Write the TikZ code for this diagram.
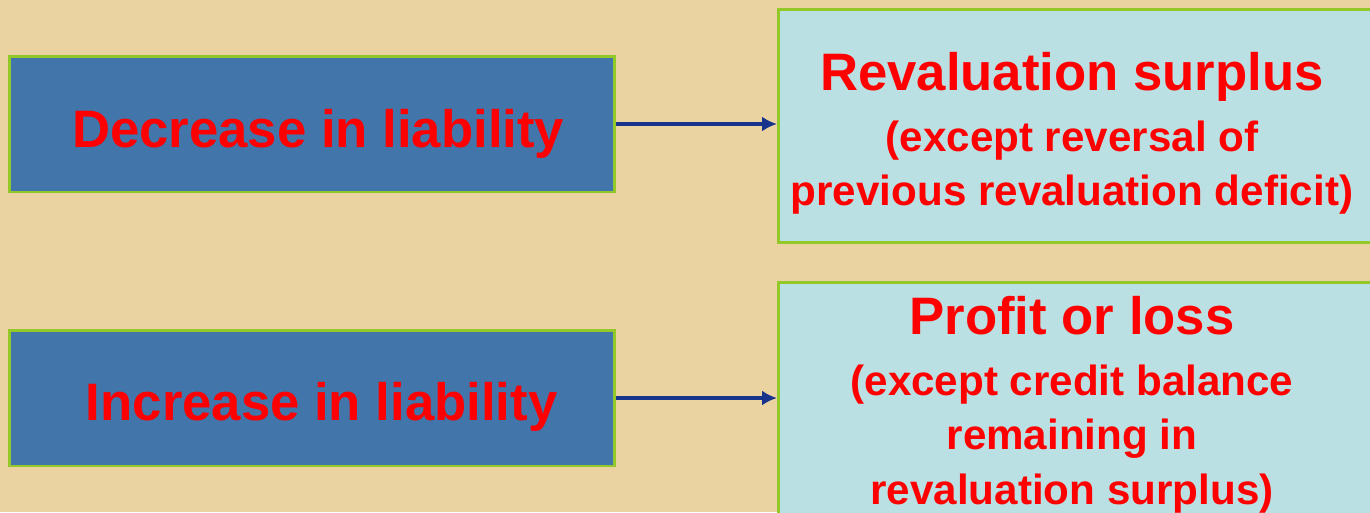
\documentclass[tikz,border=0pt]{standalone}
\usepackage{fontspec}
\setmainfont{Liberation Sans}
\usepackage{tikz}
\usetikzlibrary{arrows,arrows.meta,shapes,calc,positioning}
\definecolor{parch}{RGB}{234,211,160}
\definecolor{boxblue}{RGB}{66,117,169}
\definecolor{boxcyan}{RGB}{187,224,227}
\definecolor{rimgreen}{RGB}{146,200,40}
\definecolor{arrowblue}{RGB}{23,51,140}
\definecolor{txtred}{RGB}{255,0,0}
\tikzstyle{cause} =[rectangle, draw=rimgreen, fill=boxblue,
                    line width=1.7pt, minimum width=12.1cm,
                    minimum height=2.72cm, inner sep=0pt,
                    text=txtred, font=\fontsize{30}{34}\bfseries]
\tikzstyle{effect}=[rectangle, draw=rimgreen, fill=boxcyan,
                    line width=1.7pt, anchor=north west,
                    minimum width=12.1cm, inner sep=0pt]
\tikzstyle{note}  =[text=txtred, align=center, inner sep=0pt,
                    font=\fontsize{24}{31}\bfseries]
\tikzstyle{link}  =[-{Latex[length=8.5pt,width=8.5pt]}, draw=arrowblue,
                    line width=2.2pt]
\newcommand{\headline}[1]{{\fontsize{30}{31}\selectfont #1}\\[3.5pt]}
\newcommand{\sunk}[2]{\raisebox{-#1}[0pt][0pt]{#2}}

\begin{document}
\begin{tikzpicture}[x=0.02cm, y=-0.02cm]
        \useasboundingbox (0,0) rectangle (1370,512);
        \fill[parch] (0,0) rectangle (1370,512);
        \clip (0,0) rectangle (1370,512);

                \node[cause] (dec) at (312,124) {\sunk{13.5pt}{\hspace{7pt}Decrease in liability}};
                \node[cause] (inc) at (312,398) {\sunk{13pt}{\hspace{11pt}Increase in liability}};

                \node[effect, minimum height=4.66cm] (rev) at (777,8) {};
                \node[effect, minimum height=5.6cm] (pl) at (777,281) {};

                \node[note, anchor=north] (revtext) at (1072,52)
                    {\headline{Revaluation surplus}
                     (except reversal of\\
                     previous revaluation deficit)};
                \node[note, anchor=north] (pltext) at (1072,296)
                    {\headline{Profit or loss}
                     (except credit balance\\
                     remaining in\\
                     revaluation surplus)};

                \draw[link] (dec.east) to (dec.east -| rev.west);
                \draw[link] (inc.east) to (inc.east -| pl.west);

        \end{tikzpicture}
\end{document}
